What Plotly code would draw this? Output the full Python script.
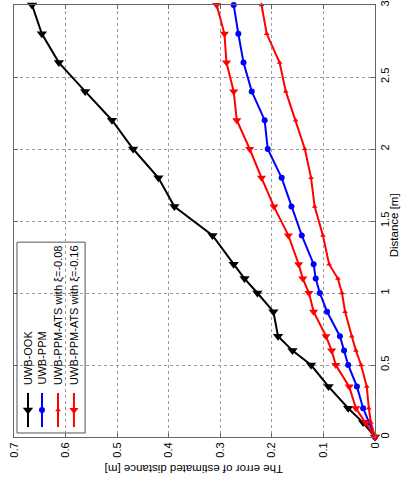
import plotly.graph_objects as go

# Distance [m] (shared sampling grid)
distance = [0, 0.1, 0.2, 0.35, 0.5, 0.6, 0.7, 0.87, 1.0, 1.1, 1.2, 1.4, 1.6, 1.8, 2.0, 2.2, 2.4, 2.6, 2.8, 3.0]
# Error of estimated distance [m]
err_ook = [0, 0.023, 0.052, 0.090, 0.124, 0.160, 0.188, 0.197, 0.228, 0.253, 0.274, 0.315, 0.389, 0.420, 0.469, 0.510, 0.562, 0.613, 0.646, 0.665]
err_ppm = [0, 0.012, 0.023, 0.035, 0.052, 0.060, 0.068, 0.093, 0.107, 0.115, 0.119, 0.142, 0.162, 0.181, 0.208, 0.214, 0.239, 0.255, 0.265, 0.274]
err_ats08 = [0, 0.008, 0.012, 0.016, 0.027, 0.037, 0.045, 0.058, 0.064, 0.072, 0.089, 0.101, 0.117, 0.124, 0.136, 0.154, 0.173, 0.185, 0.210, 0.220]
err_ats16 = [0, 0.018, 0.037, 0.050, 0.076, 0.084, 0.095, 0.119, 0.128, 0.140, 0.148, 0.168, 0.196, 0.220, 0.243, 0.268, 0.274, 0.288, 0.292, 0.307]

series_names = ["UWB-OOK", "UWB-PPM", "UWB-PPM-ATS with \u03be=-0.08", "UWB-PPM-ATS with \u03be=-0.16"]
series_vals = [err_ook, err_ppm, err_ats08, err_ats16]
colors = ["#000000", "#0000ff", "#ff0000", "#ff0000"]
symbols = ["triangle-down", "circle", "triangle-up", "triangle-down"]
sizes = [9, 6, 5, 8]

err_ticks = [0, 0.1, 0.2, 0.3, 0.4, 0.5, 0.6, 0.7]
err_ticktext = ["0", "0.1", "0.2", "0.3", "0.4", "0.5", "0.6", "0.7"]
dist_ticks = [0, 0.5, 1, 1.5, 2, 2.5, 3]
dist_ticktext = ["0", "0.5", "1", "1.5", "2", "2.5", "3"]

FONT = "Liberation Sans, Arial, Helvetica, sans-serif"

fig = go.Figure()
for name, vals, c, s, sz in zip(series_names, series_vals, colors, symbols, sizes):
    fig.add_trace(go.Scatter(
        x=vals, y=distance, mode="lines+markers", name=name,
        line=dict(color=c, width=2),
        marker=dict(symbol=s, size=sz, color=c, line=dict(width=0)),
        showlegend=False, cliponaxis=False,
    ))

# Rotated legend (drawn on an overlay unit axis)
leg_x = [0.0388, 0.0776, 0.1219, 0.166]
leg_y0, leg_y1, leg_ym = 0.023, 0.102, 0.0625
for lx, c, s, sz in zip(leg_x, colors, symbols, sizes):
    fig.add_trace(go.Scatter(
        x=[lx, lx], y=[leg_y0, leg_y1], mode="lines", xaxis="x2", yaxis="y2",
        line=dict(color=c, width=2), showlegend=False, hoverinfo="skip"))
    fig.add_trace(go.Scatter(
        x=[lx], y=[leg_ym], mode="markers", xaxis="x2", yaxis="y2",
        marker=dict(symbol=s, size=sz, color=c), showlegend=False, hoverinfo="skip"))

fig.add_shape(type="rect", xref="paper", yref="paper", x0=0.0083, x1=0.197, y0=0.0093, y1=0.451,
              line=dict(color="#555555", width=1), fillcolor="white", layer="below")

annotations = []
for lx, name in zip(leg_x, series_names):
    annotations.append(dict(
        x=lx, y=0.1157, xref="paper", yref="paper", text=name, showarrow=False,
        textangle=-90, xanchor="center", yanchor="bottom",
        font=dict(family=FONT, size=11, color="#000000")))

annotations.append(dict(
    x=0.5, y=-0.074, xref="paper", yref="paper", text="The error of estimated distance [m]",
    showarrow=False, textangle=180, xanchor="center", yanchor="middle",
    font=dict(family=FONT, size=11.5, color="#000000")))

annotations.append(dict(
    x=1.0526, y=0.49, xref="paper", yref="paper", text="Distance [m]",
    showarrow=False, textangle=-90, xanchor="center", yanchor="middle", borderpad=0,
    font=dict(family=FONT, size=11.5, color="#000000")))

axis_common = dict(
    showgrid=True, gridcolor="#9a9a9a", griddash="dot", gridwidth=1,
    showline=True, linecolor="#666666", linewidth=1, mirror="ticks",
    ticks="inside", ticklen=4, tickcolor="#666666", zeroline=False,
    tickangle=-90, tickfont=dict(family=FONT, size=11, color="#000000"),
    automargin=False,
)

fig.update_layout(
    width=402, height=481,
    margin=dict(l=14, r=27, t=5, b=44, autoexpand=False),
    paper_bgcolor="white", plot_bgcolor="white",
    showlegend=False,
    xaxis=dict(range=[0.7, 0], tickvals=err_ticks, ticktext=err_ticktext, **axis_common),
    yaxis=dict(range=[0, 3], tickvals=dist_ticks, ticktext=dist_ticktext, side="right",
               **axis_common),
    xaxis2=dict(overlaying="x", range=[0, 1], visible=False, fixedrange=True),
    yaxis2=dict(overlaying="y", range=[0, 1], visible=False, fixedrange=True),
    annotations=annotations,
)

fig.write_html("out.html", config={"displayModeBar": False},
               post_script="document.body.style.margin='0';document.body.style.overflow='hidden';")
